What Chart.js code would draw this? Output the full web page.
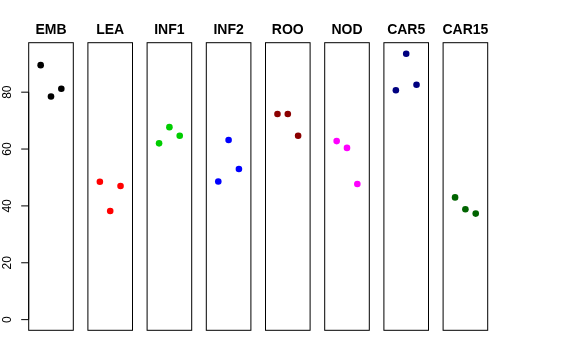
<!DOCTYPE html>
<html>
<head>
<meta charset="utf-8">
<script src="https://cdn.jsdelivr.net/npm/chart.js@4/dist/chart.umd.min.js"></script>
<style>
  html, body { margin: 0; padding: 0; background: #fff; }
  #wrap { position: relative; width: 576px; height: 360px; }
  #wrap canvas { position: absolute; left: 0; top: 0; }
</style>
</head>
<body>
<div id="wrap"></div>
<script>
const groups = ["EMB", "LEA", "INF1", "INF2", "ROO", "NOD", "CAR5", "CAR15"];
const colors = ["#000000", "#FF0000", "#00CD00", "#0000FF", "#8B0000", "#FF00FF", "#000080", "#006400"];
const reps = [1, 2, 3];
const embVals = [89.5, 78.5, 81.2];
const leaVals = [48.5, 38.2, 47.0];
const inf1Vals = [62.0, 67.7, 64.7];
const inf2Vals = [48.6, 63.2, 53.0];
const rooVals = [72.3, 72.3, 64.7];
const nodVals = [62.8, 60.4, 47.7];
const car5Vals = [80.7, 93.5, 82.6];
const car15Vals = [43.0, 38.8, 37.3];
const yTicks = [0, 20, 40, 60, 80];

const allVals = [embVals, leaVals, inf1Vals, inf2Vals, rooVals, nodVals, car5Vals, car15Vals];
const font = "'Liberation Sans', Arial, Helvetica, sans-serif";

// panel geometry (R's par(mfrow) style layout)
const W = 576, H = 360;
const firstLeft = 28.7, step = 59.2, panelW = 44.6;
const panelTop = 42.7, panelBottom = 330.3;

const panelDeco = {
  id: "panelDeco",
  afterDraw(chart, args, opts) {
    const { ctx, chartArea: a } = chart;
    ctx.save();
    ctx.strokeStyle = "#000";
    ctx.lineWidth = 1;
    ctx.strokeRect(a.left, a.top, a.right - a.left, a.bottom - a.top);

    ctx.fillStyle = "#000";
    ctx.font = "bold 14px " + font;
    ctx.textAlign = "center";
    ctx.textBaseline = "alphabetic";
    ctx.fillText(opts.title, (a.left + a.right) / 2, 33.8);

    if (opts.axis) {
      const ys = chart.scales.y;
      const y0 = ys.getPixelForValue(yTicks[0]);
      const y1 = ys.getPixelForValue(yTicks[yTicks.length - 1]);
      ctx.beginPath();
      ctx.moveTo(a.left, y0);
      ctx.lineTo(a.left, y1);
      ctx.stroke();
      ctx.font = "12px " + font;
      yTicks.forEach((v) => {
        const y = ys.getPixelForValue(v);
        ctx.beginPath();
        ctx.moveTo(a.left - 7.5, y);
        ctx.lineTo(a.left, y);
        ctx.stroke();
        ctx.save();
        ctx.translate(11.2, y);
        ctx.rotate(-Math.PI / 2);
        ctx.textAlign = "center";
        ctx.fillText(String(v), 0, 0);
        ctx.restore();
      });
    }
    ctx.restore();
  },
};

const wrap = document.getElementById("wrap");
groups.forEach((g, i) => {
  const canvas = document.createElement("canvas");
  canvas.width = W;
  canvas.height = H;
  wrap.appendChild(canvas);
  const left = firstLeft + step * i;
  new Chart(canvas, {
    type: "scatter",
    data: {
      datasets: [
        {
          data: reps.map((r, j) => ({ x: r, y: allVals[i][j] })),
          backgroundColor: colors[i],
          borderColor: colors[i],
          pointRadius: 3.3,
          pointBorderWidth: 0,
        },
      ],
    },
    options: {
      responsive: false,
      animation: false,
      events: [],
      layout: {
        padding: { left: left, right: W - left - panelW, top: panelTop, bottom: H - panelBottom },
      },
      scales: {
        x: { type: "linear", min: -0.16, max: 4.16, display: false },
        y: { type: "linear", min: -3.75, max: 97.4, display: false },
      },
      plugins: {
        legend: { display: false },
        tooltip: { enabled: false },
        panelDeco: { title: g, axis: i === 0 },
      },
    },
    plugins: [panelDeco],
  });
});
</script>
</body>
</html>
